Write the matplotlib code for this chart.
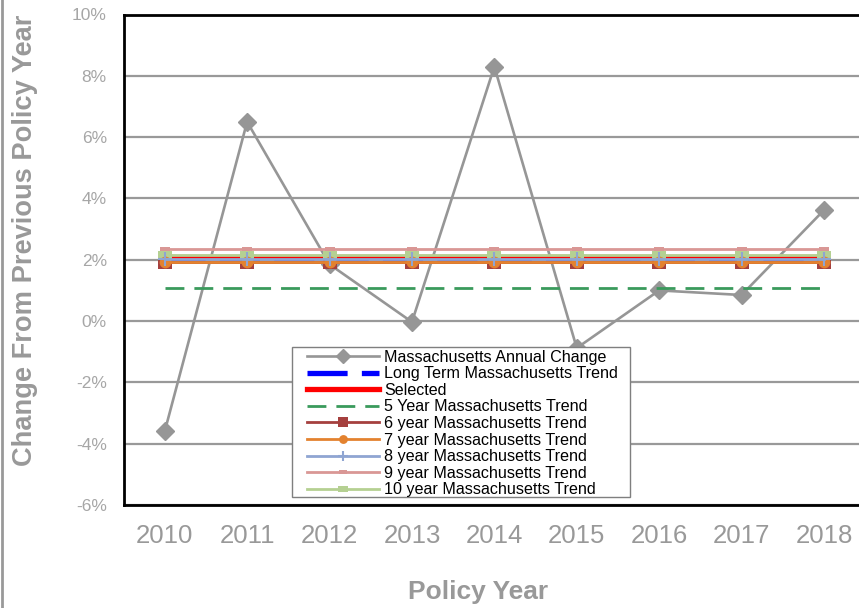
import matplotlib
matplotlib.use("Agg")
import matplotlib.pyplot as plt
from matplotlib.lines import Line2D
from matplotlib.patches import Rectangle
from matplotlib.ticker import FuncFormatter

plt.rcParams['font.family'] = ['Liberation Sans', 'DejaVu Sans']

years = ["2010", "2011", "2012", "2013", "2014", "2015", "2016", "2017", "2018"]
annual_change = [-3.6, 6.5, 1.85, -0.03, 8.3, -0.88, 1.0, 0.85, 3.62]
long_term = 2.02
selected = 2.09
trend_5yr = 1.09
trend_6yr = 1.93
trend_7yr = 1.94
trend_8yr = 2.02
trend_9yr = 2.34
trend_10yr = 2.16

W, H = 859, 608
fig = plt.figure(figsize=(W / 100, H / 100), dpi=100)
ax = fig.add_axes([123.5 / W, 1 - 505 / H, (865.2 - 123.5) / W, (505 - 14.5) / H])

x = list(range(len(years)))
n = len(years)

# flat horizontal bar marker
bar = [(-1, -0.5), (1, -0.5), (1, 0.5), (-1, 0.5), (-1, -0.5)]

ax.plot(x, annual_change, color='#969696', lw=1.9, marker='D', ms=9.0,
        mfc='#969696', mec='#969696', zorder=3, label='Massachusetts Annual Change')
ax.plot(x, [long_term] * n, color='#0000FF', lw=3.8, dashes=(7.6, 2.7),
        zorder=3, label='Long Term Massachusetts Trend')
ax.plot(x, [selected] * n, color='#FF0000', lw=3.8, zorder=3, label='Selected')
ax.plot(x, [trend_5yr] * n, color='#3A9A5C', lw=2.0, dashes=(6.8, 3.6),
        zorder=3, label='5 Year Massachusetts Trend')
ax.plot(x, [trend_6yr] * n, color='#A5403E', lw=2.0, marker='s', ms=10,
        mew=0, zorder=4, label='6 year Massachusetts Trend')
ax.plot(x, [trend_9yr] * n, color='#D99795', lw=2.0, marker=bar, ms=7,
        mew=0, zorder=4, label='9 year Massachusetts Trend')
ax.plot(x, [trend_10yr] * n, color='#B5D092', lw=2.0, marker=bar, ms=10.5,
        mew=0, zorder=4, label='10 year Massachusetts Trend')
ax.plot(x, [trend_7yr] * n, color='#E3822F', lw=2.0, marker='o', ms=8.5,
        mew=0, zorder=4, label='7 year Massachusetts Trend')
ax.plot(x, [trend_8yr] * n, color='#8FA5D2', lw=2.0, marker='+', ms=10, mew=1.5,
        zorder=4, label='8 year Massachusetts Trend')

ax.set_xlim(-0.5, n - 0.5)
ax.set_ylim(-6, 10)
ax.set_yticks(range(-6, 11, 2))
ax.yaxis.set_major_formatter(FuncFormatter(lambda v, p: f"{v:.0f}%"))
ax.set_xticks(x)
ax.set_xticklabels(years)

ax.grid(axis='y', color='#999999', lw=1.6, zorder=1)
ax.set_axisbelow(True)
ax.tick_params(axis='both', length=0, colors='#999999')
ax.tick_params(axis='y', labelsize=12.5, pad=12, labelcolor='#a6a6a6')
ax.tick_params(axis='x', labelsize=18.5, pad=14)

for side in ('top', 'bottom', 'left'):
    ax.spines[side].set_color('#000000')
    ax.spines[side].set_linewidth(2.0)
ax.spines['right'].set_visible(False)

fig.text(25 / W, 1 - 240 / H, 'Change From Previous Policy Year', rotation=90,
         ha='center', va='center', fontsize=19.6, fontweight='bold', color='#999999')
fig.text(478 / W, 1 - 592 / H, 'Policy Year', ha='center', va='center',
         fontsize=19, fontweight='bold', color='#999999')

# legend box
fig.patches.append(Rectangle((292 / W, 1 - 497 / H), (630 - 292) / W, (497 - 347) / H,
                             transform=fig.transFigure, facecolor='white',
                             edgecolor='#7f7f7f', lw=1.0, zorder=10))

order = ['Massachusetts Annual Change', 'Long Term Massachusetts Trend', 'Selected',
         '5 Year Massachusetts Trend', '6 year Massachusetts Trend',
         '7 year Massachusetts Trend', '8 year Massachusetts Trend',
         '9 year Massachusetts Trend', '10 year Massachusetts Trend']
hmap = dict(zip(*reversed(ax.get_legend_handles_labels())))
handles = [hmap[k] for k in order]
leg = fig.legend(handles, order, loc='upper left',
                 bbox_to_anchor=(305 / W, 1 - 348 / H), frameon=False,
                 fontsize=11.6, labelspacing=0.1, handlelength=4.5,
                 handletextpad=0.3, borderpad=0.1, borderaxespad=0,
                 markerscale=0.75)
leg.set_zorder(11)

# left border of the figure
fig.add_artist(Line2D([2 / W, 2 / W], [0, 1], transform=fig.transFigure,
                      color='#999999', lw=2.0))

fig.savefig('out.png', dpi=100)
